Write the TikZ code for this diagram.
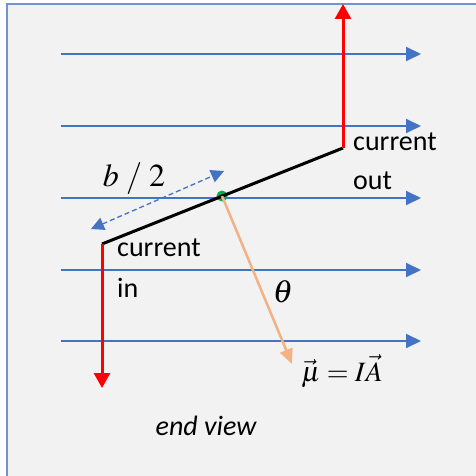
\documentclass[tikz,border=0pt]{standalone}
\usepackage{mathptmx}
\usepackage{fontspec}
\setmainfont{Carlito}
\usetikzlibrary{arrows.meta}
\definecolor{fieldblue}{HTML}{4472C4}
\definecolor{frameblue}{HTML}{7393D3}
\definecolor{bggray}{HTML}{F2F2F2}
\definecolor{muorange}{HTML}{F4B183}
\definecolor{dotgreen}{HTML}{00B050}
\tikzset{
  field/.style={draw=fieldblue, line width=2pt, -{Triangle[length=15pt,width=14pt]}},
  current/.style={draw=red, line width=3pt, -{Triangle[length=15pt,width=16pt]}},
  wire/.style={draw=black, line width=3pt},
  moment/.style={draw=muorange, line width=2.5pt, -{Triangle[length=15pt,width=13pt]}},
  halfb/.style={draw=fieldblue, line width=1.3pt, dash pattern=on 5pt off 3pt, {Triangle[length=13pt,width=13pt]}-{Triangle[length=13pt,width=13pt]}},
  lbl/.style={inner sep=0pt, font=\fontsize{28}{30}\selectfont},
  mathlbl/.style={inner sep=0pt, font=\fontsize{32}{34}\selectfont},
}
\begin{document}
\begin{tikzpicture}[x=1pt,y=-1pt]
\useasboundingbox (0,0) rectangle (475,476);
\fill[bggray] (7,4) rectangle (478,479);
\draw[frameblue, line width=2pt] (7,4) rectangle (478,479);
% field lines
\foreach \i/\yy in {1/54,2/126,3/198,4/270,5/341}{
  \coordinate (f\i s) at (61,\yy);
  \coordinate (f\i e) at (421,\yy);
  \draw[field] (f\i s) -- (f\i e);
}
% wire
\coordinate (win) at (102,244);
\coordinate (wout) at (343,148);
\coordinate (ctr) at (222,196);
\coordinate (outtip) at (343,4);
\coordinate (intip) at (102,388);
\coordinate (mutip) at (292,364);
\coordinate (bA) at (91,229);
\coordinate (bB) at (224,171);
\draw[halfb] (bA) -- (bB);
\fill[dotgreen] (ctr) circle (5.5pt);
\fill[fieldblue!60!black] (ctr) circle (2pt);
\draw[wire] (win) -- (wout);
\draw[current] (wout) -- (outtip);
\draw[current] (win) -- (intip);
\draw[moment] (ctr) -- (mutip);
% labels
\node[lbl, anchor=west] (cout1) at (353,142) {current};
\node[lbl, anchor=west] (cout2) at (353,181) {out};
\node[lbl, anchor=west] (cin1) at (117,248) {current};
\node[lbl, anchor=west] (cin2) at (117,288) {in};
\node[mathlbl] (bhalf) at (134,179) {$b\;/\;2$};
\node[mathlbl] (theta) at (283,292) {$\theta$};
\node[inner sep=0pt, font=\fontsize{28}{30}\selectfont] (mu) at (342,371) {$\vec{\mu}=I\vec{A}$};
\node[lbl, font=\fontsize{28}{30}\selectfont\itshape] (ev) at (206,426) {end view};
\end{tikzpicture}
\end{document}
